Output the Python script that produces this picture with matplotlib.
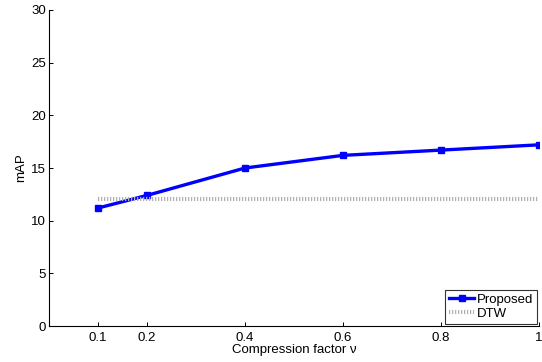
import matplotlib.pyplot as plt

plt.rcParams['font.family'] = ['Liberation Sans', 'DejaVu Sans']

factor = [0.1, 0.2, 0.4, 0.6, 0.8, 1.0]
proposed = [11.2, 12.4, 15.0, 16.2, 16.7, 17.2]
dtw = [12.1] * len(factor)
xticks = [0.1, 0.2, 0.4, 0.6, 0.8, 1]
xtick_labels = ['0.1', '0.2', '0.4', '0.6', '0.8', '1']

fig = plt.figure(figsize=(5.42, 3.62), dpi=100)
ax = fig.add_axes([0.0904, 0.0994, 0.9041, 0.873])

ax.plot(factor, proposed, color='blue', linewidth=2.4, marker='s',
        markersize=5, label='Proposed')
ax.plot(factor, dtw, color='#b0b0b0', linestyle=(0, (0.3, 0.42)),
        linewidth=3, label='DTW')

ax.set_xlim(0, 1)
ax.set_ylim(0, 30)
ax.set_xticks(xticks)
ax.set_xticklabels(xtick_labels)
ax.set_yticks(range(0, 31, 5))
ax.tick_params(direction='in', length=3, labelsize=9.5, width=0.7)
ax.tick_params(axis='x', pad=4)
ax.tick_params(axis='y', pad=2)
ax.spines['top'].set_visible(False)
ax.spines['right'].set_visible(False)
for s in ['left', 'bottom']:
    ax.spines[s].set_linewidth(0.8)

ax.set_xlabel('Compression factor ν', fontsize=9.5, labelpad=0)
ax.set_ylabel('mAP', fontsize=9.5, labelpad=3)

leg = ax.legend(loc='lower right', fontsize=9.5, frameon=True, fancybox=False,
                edgecolor='black', borderpad=0.3, handlelength=1.9,
                handletextpad=0.2, labelspacing=0.15, borderaxespad=0.15)
leg.get_frame().set_linewidth(0.8)

fig.savefig('out.png', dpi=100)
